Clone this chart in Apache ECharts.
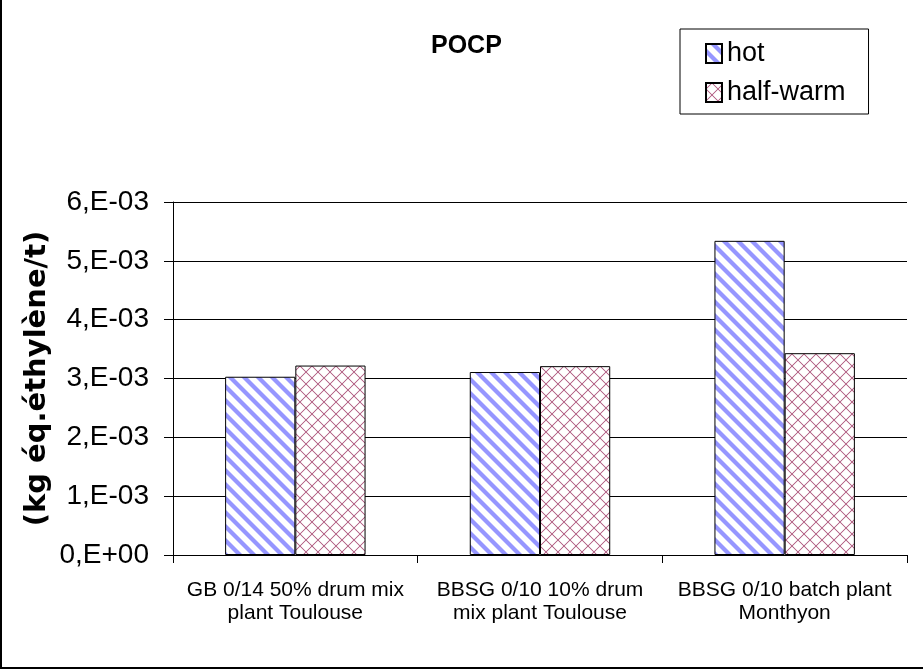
<!DOCTYPE html>
<html>
<head>
<meta charset="utf-8">
<script src="https://cdn.jsdelivr.net/npm/echarts@6/dist/echarts.min.js"></script>
<style>
html,body{margin:0;padding:0;background:#fff;}
#chart{width:923px;height:670px;}
</style>
</head>
<body>
<div id="chart"></div>
<script>
// ---- data ----
const categories = ['GB 0/14 50% drum mix\nplant Toulouse', 'BBSG 0/10 10% drum\nmix plant Toulouse', 'BBSG 0/10 batch plant\nMonthyon'];
const seriesNames = ['hot', 'half-warm'];
const hotValues = [3.03e-3, 3.11e-3, 5.34e-3];
const halfWarmValues = [3.22e-3, 3.21e-3, 3.43e-3];
const yTickLabels = ['0,E+00', '1,E-03', '2,E-03', '3,E-03', '4,E-03', '5,E-03', '6,E-03'];
const yStep = 0.001;

// ---- patterns ----
function makePattern(N, fn) {
  const c = document.createElement('canvas');
  c.width = N; c.height = N;
  const ctx = c.getContext('2d');
  const img = ctx.createImageData(N, N);
  for (let y = 0; y < N; y++) {
    for (let x = 0; x < N; x++) {
      const rgba = fn(x + 0.5, y + 0.5);
      const i = (y * N + x) * 4;
      img.data[i] = rgba[0]; img.data[i + 1] = rgba[1]; img.data[i + 2] = rgba[2]; img.data[i + 3] = 255;
    }
  }
  ctx.putImageData(img, 0, 0);
  return c;
}
function cov(t, N, w) {
  const m = ((t % N) + N) % N;
  const d = Math.abs(m - N / 2);
  return Math.max(0, Math.min(1, w / 2 + 0.5 - d));
}
function mix(col, a) {
  return [255 + (col[0] - 255) * a, 255 + (col[1] - 255) * a, 255 + (col[2] - 255) * a];
}
const hotPattern = makePattern(14, (x, y) => mix([150, 150, 255], cov(x - y, 14, 6)));
const warmPattern = makePattern(12, (x, y) => {
  const a = Math.max(cov(x - y, 12, 1.4) * 0.85, cov(x + y, 12, 1.4) * 0.85);
  return mix([170, 80, 120], a);
});

const chart = echarts.init(document.getElementById('chart'), null, { renderer: 'canvas' });
const font = 'Liberation Sans';
chart.setOption({
  animation: false,
  backgroundColor: '#fff',
  textStyle: { fontFamily: font, color: '#000' },
  title: {
    text: 'POCP', left: 426, top: 29,
    textStyle: { fontFamily: font, fontSize: 25, fontWeight: 'bold', color: '#000' }
  },
  legend: {
    orient: 'vertical', left: 680, top: 29,
    padding: [11, 23, 8, 25],
    borderColor: '#000', borderWidth: 1,
    itemWidth: 16, itemHeight: 19, itemGap: 12, itemTextGap: 12,
    icon: 'rect',
    textStyle: { fontFamily: font, fontSize: 27, color: '#000' },
    data: seriesNames
  },
  grid: { left: 173, right: 16, top: 202, bottom: 115, containLabel: false },
  xAxis: {
    type: 'category', data: categories,
    axisLine: { lineStyle: { color: '#000', width: 1 } },
    axisTick: { show: true, length: 8, alignWithLabel: false, lineStyle: { color: '#000' } },
    axisLabel: { interval: 0, margin: 24, fontFamily: font, fontSize: 21, lineHeight: 23, color: '#000' }
  },
  yAxis: {
    type: 'value', min: 0, max: 0.006, interval: yStep,
    name: '(kg éq.éthylène/t)', nameLocation: 'middle', nameGap: 121, nameMoveOverlap: false,
    nameTextStyle: { fontFamily: 'DejaVu Sans', fontSize: 29, fontWeight: 'bold', color: '#000' },
    axisLine: { show: true, lineStyle: { color: '#000', width: 1 } },
    axisTick: { show: true, length: 9, lineStyle: { color: '#000' } },
    axisLabel: {
      margin: 24, fontFamily: font, fontSize: 28, color: '#000',
      formatter: v => yTickLabels[Math.round(v / yStep)]
    },
    splitLine: { show: true, lineStyle: { color: '#000', width: 1 } }
  },
  series: [
    {
      name: seriesNames[0], type: 'bar', data: hotValues,
      barGap: '0%', barCategoryGap: '42.6%',
      itemStyle: { color: { image: hotPattern, repeat: 'repeat' }, borderColor: '#000', borderWidth: 1 }
    },
    {
      name: seriesNames[1], type: 'bar', data: halfWarmValues,
      barGap: '0%', barCategoryGap: '42.6%',
      itemStyle: { color: { image: warmPattern, repeat: 'repeat' }, borderColor: '#000', borderWidth: 1 }
    }
  ],
  graphic: [
    { type: 'line', shape: { x1: 1, y1: 0, x2: 1, y2: 669 }, style: { stroke: '#000', lineWidth: 2 } },
    { type: 'line', shape: { x1: 0, y1: 668, x2: 923, y2: 668 }, style: { stroke: '#000', lineWidth: 2 } }
  ]
});
</script>
</body>
</html>
